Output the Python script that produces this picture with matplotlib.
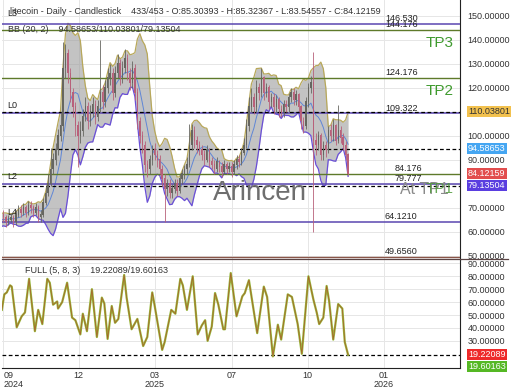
import numpy as np
import pandas as pd
import matplotlib
matplotlib.use("Agg")
import matplotlib.pyplot as plt
from matplotlib.lines import Line2D

plt.rcParams['font.family'] = ['Liberation Sans', 'DejaVu Sans']

# litecoin, one candle per 3 days, day 0 = the "09 2024" tick
start_day = -21
step = 3
first_open = 63
close = [64, 65, 63, 64, 66, 65, 67, 66, 64, 65, 66, 64, 67, 69, 68, 70, 68, 71, 70, 68,
         70, 66, 67, 72, 76, 80, 86, 90, 94, 100, 104, 128, 134, 126, 118, 112, 104, 100, 102, 108,
         112, 106, 110, 113, 108, 112, 118, 114, 120, 124, 126, 118, 126, 130, 124, 128, 132, 126, 122, 128,
         118, 106, 100, 96, 88, 86, 90, 94, 92, 90, 86, 82, 78, 80, 76, 78, 80, 77, 82, 84,
         86, 88, 96, 102, 98, 96, 94, 92, 90, 94, 89, 88, 86, 89, 87, 85, 88, 86, 87, 85,
         88, 90, 89, 93, 96, 104, 112, 116, 112, 120, 118, 124, 118, 120, 114, 116, 112, 115, 111, 110,
         113, 112, 116, 118, 115, 117, 112, 106, 104, 114, 120, 122, 98, 96, 100, 92, 96, 94, 102, 100,
         104, 98, 102, 99, 96, 92, 84.12159]
high = [66, 67, 66, 66, 68, 68, 69, 69, 67, 67, 68, 67, 69, 71, 71, 72, 71, 73, 73, 71,
        72, 71, 69, 74, 79, 84, 95, 93, 97, 103, 110, 139, 138, 136, 128, 120, 114, 106, 106, 111,
        116, 114, 113, 116, 115, 115, 140, 121, 123, 128, 130, 128, 129, 134, 132, 131, 136, 134, 128, 131,
        130, 120, 108, 102, 98, 90, 92, 96, 97, 94, 92, 88, 84, 82, 82, 80, 82, 82, 84, 86,
        88, 91, 105, 105, 104, 100, 98, 96, 94, 96, 95, 91, 90, 91, 90, 89, 90, 89, 89, 89,
        90, 92, 92, 95, 99, 107, 116, 120, 118, 123, 122, 128, 125, 122, 121, 118, 118, 117, 116, 113,
        115, 115, 118, 120, 120, 119, 118, 113, 108, 116, 122, 125, 135, 101, 102, 101, 98, 98, 104, 105,
        107, 105, 113, 104, 101, 98, 93]
low = [62, 63, 61, 62, 63, 63, 64, 64, 62, 63, 64, 62, 63, 66, 66, 67, 66, 67, 68, 66,
       67, 64, 64, 66, 71, 75, 79, 84, 88, 92, 98, 102, 124, 122, 114, 108, 100, 87, 97, 100,
       106, 103, 104, 108, 105, 106, 110, 111, 112, 118, 121, 115, 116, 124, 121, 122, 126, 123, 119, 120,
       115, 103, 97, 93, 85, 83, 84, 88, 90, 87, 84, 79, 64, 75, 74, 74, 76, 75, 76, 80,
       82, 84, 87, 94, 95, 93, 92, 90, 88, 89, 87, 86, 84, 85, 85, 83, 84, 84, 85, 83,
       84, 86, 87, 88, 92, 95, 102, 110, 109, 110, 115, 116, 115, 116, 111, 112, 109, 110, 108, 108,
       108, 110, 110, 114, 113, 113, 110, 103, 101, 103, 112, 118, 60, 92, 94, 90, 90, 91, 93, 98,
       98, 96, 97, 97, 94, 90, 83.54557]

# FULL stochastic (5, 8, 3), read at turning points
stoch_day = [-2, 1, 4, 8, 10, 16, 22, 26, 31, 38, 42, 47, 53, 56, 60, 65, 66, 71, 77, 83,
             87, 93, 96, 101, 107, 113, 119, 122, 126, 131, 135, 139, 146, 149, 155, 162, 169, 174, 180, 183,
             192, 195, 203, 208, 214, 217, 222, 229, 235, 240, 244, 247, 252, 256, 260, 266, 268, 275, 282, 289,
             292, 297, 307, 315, 319, 326, 332, 336, 344, 349, 353, 356, 361, 369, 375, 379, 382, 387, 391, 394,
             399, 405, 410, 413, 417]
stoch_k = [54, 66, 67.5, 73, 72, 40.5, 49, 52, 78, 37.5, 54, 43, 78, 75, 58, 60.5, 55, 60, 75, 48,
           46, 35, 51, 37.5, 70, 33, 63.5, 59, 31.5, 57, 44, 47, 81, 63.5, 39, 47, 26, 33, 67.5, 57,
           23, 29, 54, 51, 78, 73, 54, 80, 35, 42, 46, 30, 41, 67, 58, 39, 39, 82.5, 49, 64.5,
           67, 77, 36, 72, 64, 18, 42.5, 31, 66, 64, 52, 43, 20, 80, 62, 52, 43, 48, 72.5, 61,
           31, 58.5, 55, 29, 19.22089]

tick_days = [0, 91, 183, 276, 368, 460]
tick_labels = ["09\n2024", "12", "03\n2025", "07", "10", "01\n2026"]

purple_levels = [146.530, 109.322, 79.777, 64.1210]
olive_levels = [144.176, 124.176, 84.176]
brown_level = 49.6560
level_text = {146.530: "146.530", 144.176: "144.176", 124.176: "124.176", 109.322: "109.322",
              84.176: "84.176", 79.777: "79.777", 64.1210: "64.1210", 49.6560: "49.6560"}
bb_now = [110.03801, 94.58653, 79.13504]
last_close = 84.12159
stoch_now = [19.22089, 19.60163]

# ---- derived series
n = len(close)
days = start_day + step * np.arange(n)
opens = np.array([first_open] + close[:-1])
close = np.array(close)
s = pd.Series(close)
mid = s.rolling(7).mean()
sd = s.rolling(7).std(ddof=1)
upper = mid + 2 * sd
lower = mid - 2 * sd

W, H = 520, 390
fig = plt.figure(figsize=(W / 100, H / 100), dpi=100)
ax = fig.add_axes([2 / W, (H - 259.5) / H, 458 / W, 259.5 / H])
ax2 = fig.add_axes([2 / W, (H - 368) / H, 458 / W, 108 / H], sharex=ax)

ax.set_xlim(-1.8, 552.4)
ax.set_ylim(48.42, 156.54)
ax2.set_ylim(9.0, 92.6)

for a in (ax, ax2):
    for sp in ("top", "left"):
        a.spines[sp].set_visible(False)
    a.spines["right"].set_color("#222222")
    a.yaxis.tick_right()
    a.tick_params(axis="y", length=0, pad=5.5, labelsize=6.5, labelcolor="#333333")
    a.grid(True, color="#e6e6e6", lw=0.7)
    a.set_axisbelow(True)
ax.spines["bottom"].set_visible(False)
ax2.spines["bottom"].set_color("#222222")

ax.set_yticks(np.arange(50, 151, 10))
ax.yaxis.set_major_formatter(plt.FormatStrFormatter("%.5f"))
ax2.set_yticks(np.arange(30, 91, 10))
ax2.yaxis.set_major_formatter(plt.FormatStrFormatter("%.5f"))

ax2.set_xticks(tick_days)
ax2.set_xticklabels(tick_labels, fontsize=6.5, color="#333333", linespacing=1.0)
ax2.get_xticklabels()[0].set_ha("left")
ax2.tick_params(axis="x", length=0, pad=2)
ax.tick_params(axis="x", labelbottom=False, length=0)

# Bollinger band
ax.fill_between(days, lower, upper, color="#9c9c9c", alpha=0.6, lw=0, zorder=1)
ax.plot(days, upper, color="#b8a85a", lw=0.9, zorder=2)
ax.plot(days, mid, color="#5f86d6", lw=0.7, zorder=2)
ax.plot(days, lower, color="#6a4fd8", lw=0.9, zorder=2)

# levels
for v in purple_levels:
    ax.axhline(v, color="#5a46b0", lw=1.1, zorder=3)
for v in olive_levels:
    ax.axhline(v, color="#5e7a2a", lw=1.0, zorder=3)
ax.axhline(brown_level, color="#8a5548", lw=1.0, zorder=3)
for v in bb_now:
    ax.axhline(v, color="black", lw=0.9, ls=(0, (3, 2)), zorder=3)

for v, t in level_text.items():
    xf = 0.858 if v in (84.176, 79.777) else 0.836
    ax.annotate(t, (xf, v), xycoords=("axes fraction", "data"), xytext=(0, 3.8),
                textcoords="offset points", fontsize=6.5, color="#222222", va="center", ha="left")

# candles
up = close >= opens
col = np.where(up, "#666660", "#b8607a")
ax.vlines(days, low, high, colors=col, lw=0.6, zorder=4)
ax.bar(days, np.abs(close - opens) + 0.3, bottom=np.minimum(close, opens), width=1.6,
       color=col, lw=0, zorder=4)

# texts on main panel
for lab, v in (("L3", 151.1), ("L0", 112.4), ("L2", 83.2), ("L4", 67.8)):
    ax.text(0.011, v, lab, transform=ax.get_yaxis_transform(), fontsize=6.5, color="#222222",
            va="center", ha="left")
ax.text(0.985, 138.6, "TP3", transform=ax.get_yaxis_transform(), fontsize=11, color="#3f9a2e",
        ha="right", va="center")
ax.text(0.985, 118.8, "TP2", transform=ax.get_yaxis_transform(), fontsize=11, color="#3f9a2e",
        ha="right", va="center")
ax.text(0.976, 77.7, "At TP1", transform=ax.get_yaxis_transform(), fontsize=11.5, color="#8a8a8a",
        ha="right", va="center")
ax.text(0.987, 77.7, "TP1", transform=ax.get_yaxis_transform(), fontsize=11, color="#4f9a3a",
        ha="right", va="center", alpha=0.85)
ax.text(0.563, 0.256, "Arincen", transform=ax.transAxes, fontsize=20, color="#6e6e6e",
        ha="center", va="center")

fig.text(10 / W, 1 - 12 / H,
         "litecoin - Daily - Candlestick    433/453 - O:85.30393 - H:85.32367 - L:83.54557 - C:84.12159",
         fontsize=6.5, color="#333333", va="center")
fig.text(8 / W, 1 - 29 / H, "BB (20, 2)    %.5f/%.5f/%.5f" % (bb_now[1], bb_now[0], bb_now[2]),
         fontsize=6.5, color="#333333", va="center")

# right-side value boxes
boxes = [(bb_now[0], "#f2c14e", "#333333"), (bb_now[1], "#45a6f2", "white"),
         (last_close, "#e24d4d", "white"), (bb_now[2], "#5a3ee0", "white")]
for v, bg, fg in boxes:
    ax.text(1.0175, v, "%.5f" % v, transform=ax.get_yaxis_transform(), fontsize=6.5, color=fg,
            va="center", ha="left", clip_on=False,
            bbox=dict(boxstyle="square,pad=0.12", fc=bg, ec="none"))

# stochastic panel
ax2.plot(stoch_day, stoch_k, color="#98b83c", lw=1.6, zorder=3)
ax2.plot(stoch_day, stoch_k, color="#a8602a", lw=0.55, zorder=4)
ax2.axhline(stoch_now[0], color="black", lw=0.9, ls=(0, (3, 2)), zorder=2)
ax2.text(0.05, 0.9, "FULL (5, 8, 3)    %.5f/%.5f" % (stoch_now[0], stoch_now[1]),
         transform=ax2.transAxes, fontsize=6.5, color="#333333", va="center")
for v, bg, yoff in ((stoch_now[0], "#ee2a2a", 0), (stoch_now[1], "#55b824", -8.5)):
    ax2.annotate("%.5f" % v, (1.0175, v), xycoords=("axes fraction", "data"), xytext=(0, yoff),
                 textcoords="offset points", fontsize=6.5, color="white", va="center", ha="left",
                 annotation_clip=False,
                 bbox=dict(boxstyle="square,pad=0.12", fc=bg, ec="none"))

fig.add_artist(Line2D([2 / W, 508 / W], [(H - 259.3) / H] * 2, color="#5a4444", lw=0.9))

fig.savefig("out.png", dpi=100)
